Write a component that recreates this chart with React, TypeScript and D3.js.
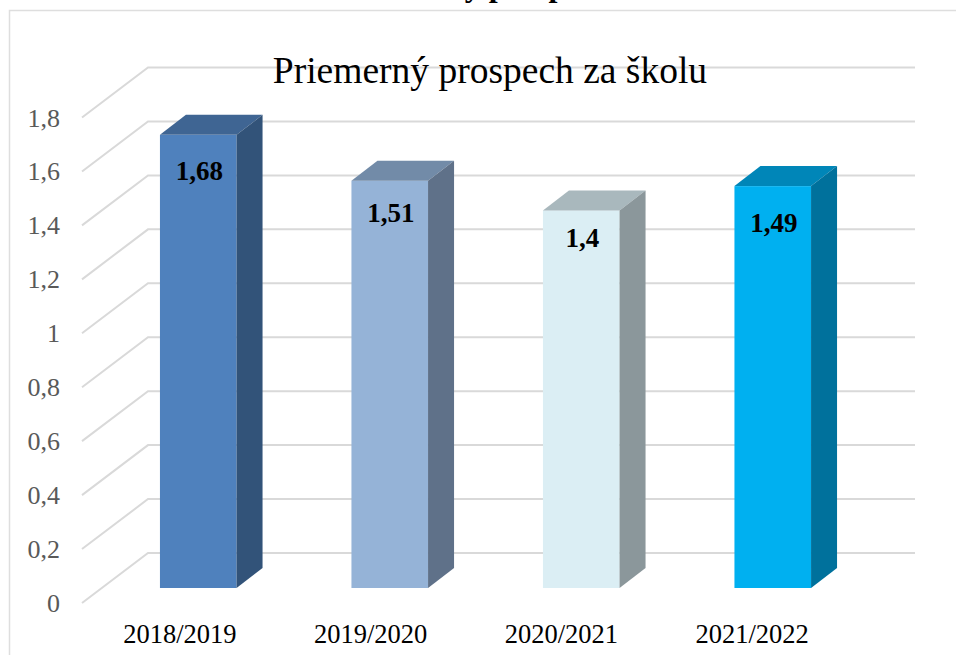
import React from "react";
import * as d3 from "d3";

const categories = ["2018/2019", "2019/2020", "2020/2021", "2021/2022"];
const values = [1.68, 1.51, 1.4, 1.49];
const valueLabels = ["1,68", "1,51", "1,4", "1,49"];
const labelOffsets = [45, 41, 37, 46];
const ticks = [0, 0.2, 0.4, 0.6, 0.8, 1, 1.2, 1.4, 1.6, 1.8];
const frontColors = ["#4f81bd", "#95b3d7", "#dbeef4", "#00b0f0"];
const topColors = ["#3f6593", "#728ba8", "#a9b8bd", "#0086b8"];
const sideColors = ["#325379", "#5f7189", "#8b979b", "#00719c"];

const W = 956, H = 655;
const dx = 26, dy = 20;
const yFront = d3.scaleLinear().domain([0, 1.8]).range([588, 102.5]);
const x = d3.scaleBand<string>().domain(categories).range([102.5, 868.5]).paddingInner(0.6).paddingOuter(0.3);
const xLabel = d3.scaleBand<string>().domain(categories).range([84.5, 847.5]).paddingInner(0.6).paddingOuter(0.3);
const serif = "'Liberation Serif', 'Times New Roman', serif";
const tickFmt = (t: number) => String(t).replace(".", ",");

export default function App() {
  const bw = x.bandwidth();
  const wallY = (t: number) => yFront(t) - 35;
  return (
    <svg width={W} height={H} style={{ position: "absolute", left: 0, top: 0 }} fontFamily={serif}>
      <rect width={W} height={H} fill="#fff" />
      <path d={`M9.5,${H}V10.5H${W}`} fill="none" stroke="#dedede" strokeWidth={1.5} />
      <text x={335} y={-4} fontSize={32} fontWeight="bold" fill="#000">Priemerný prospech</text>
      {ticks.map((t) => (
        <g key={t}>
          <path
            d={`M82,${wallY(t) + 50}L148,${wallY(t)}H915`}
            fill="none"
            stroke="#d9d9d9"
            strokeWidth={2}
          />
          <text x={60} y={wallY(t) + 59} textAnchor="end" fontSize={26} fill="#595959">{tickFmt(t)}</text>
        </g>
      ))}
      <text x={490} y={83} textAnchor="middle" fontSize={37.5} fill="#000">Priemerný prospech za školu</text>
      {categories.map((c, i) => {
        const x0 = x(c)!;
        const x1 = x0 + bw;
        const yT = yFront(values[i]);
        const y0 = yFront(0);
        return (
          <g key={c}>
            <rect x={x0} y={yT} width={bw} height={y0 - yT} fill={frontColors[i]} />
            <polygon points={`${x0},${yT} ${x0 + dx},${yT - dy} ${x1 + dx},${yT - dy} ${x1},${yT}`} fill={topColors[i]} />
            <polygon points={`${x1},${yT} ${x1 + dx},${yT - dy} ${x1 + dx},${y0 - dy} ${x1},${y0}`} fill={sideColors[i]} />
            <text x={x0 + bw / 2 + 1} y={yT + labelOffsets[i]} textAnchor="middle" fontSize={27} fontWeight="bold" fill="#000">{valueLabels[i]}</text>
            <text x={xLabel(c)! + xLabel.bandwidth() / 2} y={643} textAnchor="middle" fontSize={26.5} fill="#000">{c}</text>
          </g>
        );
      })}
    </svg>
  );
}
